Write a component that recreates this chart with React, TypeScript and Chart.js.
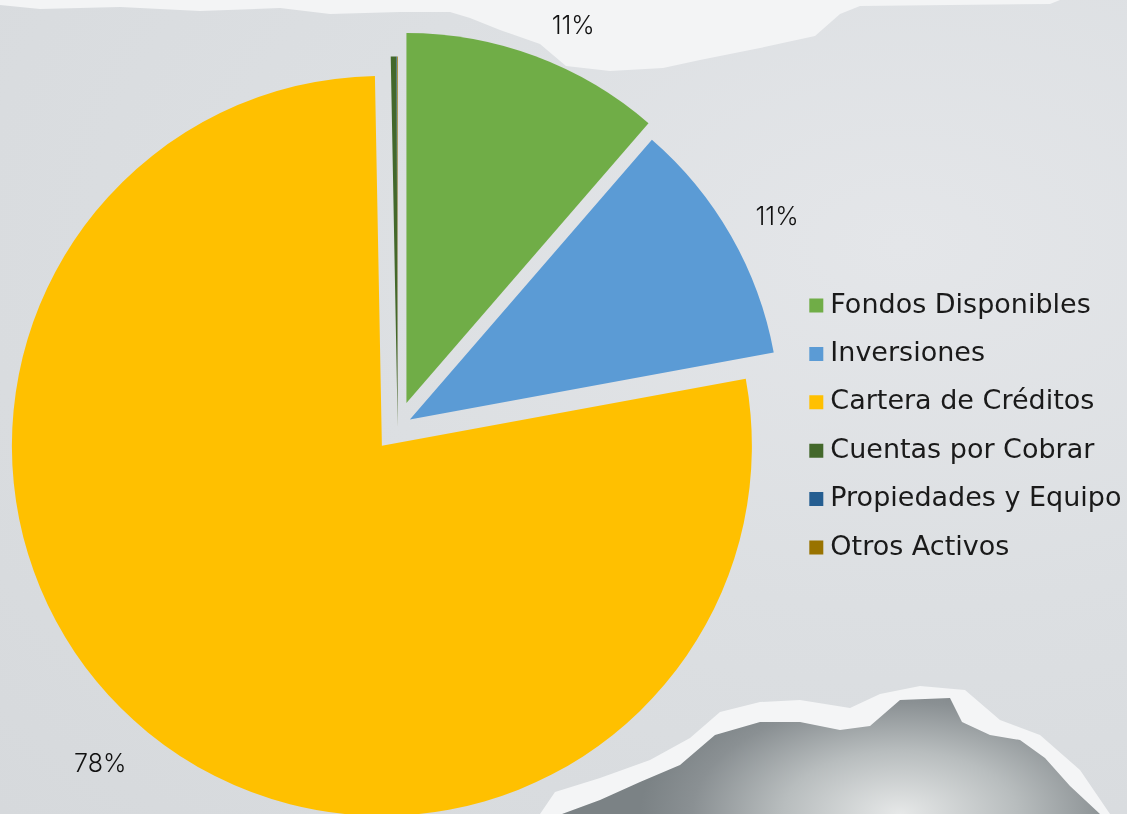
import React, { useEffect, useRef } from 'react';
import { Chart, registerables } from 'chart.js';

Chart.register(...registerables);

// ---- data ----
const categories = [
  'Fondos Disponibles',
  'Inversiones',
  'Cartera de Créditos',
  'Cuentas por Cobrar',
  'Propiedades y Equipo',
  'Otros Activos',
];
const shares = [11.35, 10.75, 77.6, 0.25, 0.02, 0.03];

// ---- styles ----
const sliceColors = ['#70AD47', '#5B9BD5', '#FFC000', '#43682B', '#255E91', '#997300'];
const explodeBy = [25, 14, 25, 0, 0, 0];

const explodePlugin = {
  id: 'explodeSlices',
  beforeDatasetDraw(chart: any, args: any) {
    const ctx = chart.ctx;
    const arcs = args.meta.data;
    arcs.forEach((arc: any, i: number) => {
      const d = explodeBy[i] || 0;
      const { startAngle, endAngle } = arc.getProps(['startAngle', 'endAngle'], true);
      const mid = (startAngle + endAngle) / 2;
      ctx.save();
      ctx.translate(Math.cos(mid) * d, Math.sin(mid) * d);
      arc.draw(ctx);
      ctx.restore();
    });
    return false;
  },
};

const labelPlugin = {
  id: 'outsideLabels',
  afterDatasetsDraw(chart: any) {
    const meta = chart.getDatasetMeta(0);
    const vals = chart.data.datasets[0].data as number[];
    const total = vals.reduce((a, b) => a + b, 0);
    const ctx = chart.ctx;
    ctx.save();
    ctx.font = '300 25px Inter';
    ctx.fillStyle = '#111111';
    ctx.textAlign = 'center';
    ctx.textBaseline = 'middle';
    meta.data.forEach((arc: any, i: number) => {
      const pct = (vals[i] / total) * 100;
      if (pct < 1) return;
      const { x, y, startAngle, endAngle, outerRadius } = arc.getProps(
        ['x', 'y', 'startAngle', 'endAngle', 'outerRadius'],
        true
      );
      const mid = (startAngle + endAngle) / 2;
      const c = Math.cos(mid);
      const s = Math.sin(mid);
      const text = Math.round(pct) + '%';
      const w = ctx.measureText(text).width;
      const dist = (explodeBy[i] || 0) + outerRadius + 28;
      const px = x + c * dist + Math.sign(c) * w / 2 - 8.4 * s - 4.5 * c;
      const py = y + s * dist + Math.sign(s) * 7 + 3;
      ctx.fillText(text, px, py);
    });
    ctx.restore();
  },
};

const whiteTop =
  'polygon(0px 0px, 1060px 0px, 1050px 4px, 860px 6px, 840px 14px, 815px 36px, 760px 48px, 700px 60px, 663px 68px, 610px 71px, 566px 66px, 540px 44px, 500px 30px, 470px 18px, 450px 12px, 400px 12px, 330px 14px, 280px 8px, 200px 11px, 120px 7px, 40px 9px, 0px 5px)';
const whiteEdge =
  'polygon(540px 814px, 555px 792px, 600px 778px, 650px 760px, 690px 738px, 720px 712px, 760px 702px, 800px 700px, 850px 708px, 880px 694px, 920px 686px, 965px 690px, 1000px 720px, 1040px 735px, 1080px 770px, 1110px 814px)';
const darkArea =
  'polygon(562px 814px, 600px 800px, 640px 782px, 680px 765px, 715px 735px, 760px 722px, 800px 722px, 840px 730px, 870px 726px, 900px 700px, 950px 698px, 962px 722px, 990px 735px, 1020px 740px, 1045px 758px, 1070px 786px, 1100px 814px)';

export default function App() {
  const ref = useRef<HTMLCanvasElement>(null);

  useEffect(() => {
    const chart = new Chart(ref.current as HTMLCanvasElement, {
      type: 'pie',
      data: {
        labels: categories,
        datasets: [
          {
            data: shares,
            backgroundColor: sliceColors,
            borderWidth: 0,
            hoverOffset: 0,
            radius: 370,
          } as any,
        ],
      },
      options: {
        responsive: false,
        animation: false,
        layout: { padding: { left: 1, right: -4.5, top: 39, bottom: 0 } },
        plugins: {
          legend: {
            position: 'right',
            align: 'center',
            labels: {
              usePointStyle: true,
              pointStyle: 'rect',
              boxWidth: 1,
              boxHeight: 14,
              padding: 21.4,
              color: '#1a1a1a',
              font: { family: 'DejaVu Sans', size: 27 },
            },
          },
          tooltip: { enabled: false },
        },
      } as any,
      plugins: [explodePlugin, labelPlugin],
    });
    return () => chart.destroy();
  }, []);

  return (
    <div
      style={{
        position: 'fixed',
        left: 0,
        top: 0,
        width: 1127,
        height: 814,
        overflow: 'hidden',
        background:
          'radial-gradient(ellipse at 80% 30%, #e4e6e9 0%, #dcdfe2 45%, #d6d9dc 100%)',
      }}
    >
      <div style={{ position: 'absolute', inset: 0, background: '#f3f4f5', clipPath: whiteTop }} />
      <div style={{ position: 'absolute', inset: 0, background: '#f4f5f6', clipPath: whiteEdge }} />
      <div
        style={{
          position: 'absolute',
          inset: 0,
          clipPath: darkArea,
          background:
            'radial-gradient(ellipse 260px 140px at 900px 814px, #e6e8e8 0%, #b8bdbe 45%, #8a9093 80%, #7b8285 100%)',
        }}
      />
      <canvas ref={ref} width={1127} height={814} style={{ position: 'absolute', left: 0, top: 0 }} />
    </div>
  );
}
